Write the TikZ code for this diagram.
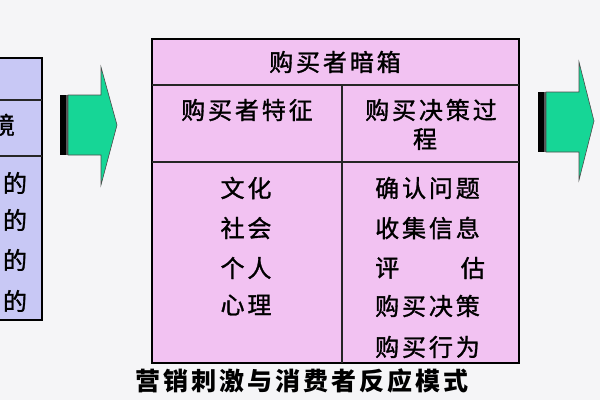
\documentclass[tikz,border=0pt]{standalone}
\usepackage{fontspec}
\newfontfamily\cjk[LetterSpace=12,FakeBold=1.3]{Noto Sans CJK SC}
\newfontfamily\cjkcap[LetterSpace=12]{Noto Sans CJK SC}
\definecolor{bgc}{RGB}{245,245,247}
\definecolor{pinkc}{RGB}{242,194,242}
\definecolor{lavc}{RGB}{200,200,245}
\definecolor{arrc}{RGB}{22,214,150}
\tikzset{
  txt/.style={font=\cjk\fontsize{24}{28}\selectfont, inner sep=0pt},
  tbl/.style={draw=black, line width=2pt},
  inl/.style={draw=black!85, line width=1.2pt},
  bigarrow/.style={fill=arrc, draw=black!70, line width=0.6pt}
}
\begin{document}
\begin{tikzpicture}[x=1pt,y=-1pt]
\useasboundingbox (0,0) rectangle (600,400);
\fill[bgc] (0,0) rectangle (600,400);
% left table
\filldraw[fill=lavc, tbl] (-5,58) rectangle (42,320);
\draw[inl] (-5,100) -- (42,100);
\draw[inl] (-5,156) -- (42,156);
\node[txt] (l0) at (3,125) {境};
\node[txt] (l1) at (15,183) {的};
\node[txt] (l2) at (15,220) {的};
\node[txt] (l3) at (15,260) {的};
\node[txt] (l4) at (15,301) {的};
% left arrow
\fill[black] (60,95) rectangle (66,155);
\fill[black!65] (66,95) rectangle (68,155);
\draw[bigarrow] (68,95) -- (101,95) -- (101,67) -- (117,125) -- (101,185) -- (101,155) -- (68,155) -- cycle;
% right arrow
\fill[black] (538,92) rectangle (544,152);
\fill[black!65] (544,92) rectangle (546,152);
\draw[bigarrow] (546,92) -- (579,92) -- (579,62) -- (594,121) -- (579,180) -- (579,152) -- (546,152) -- cycle;
% middle table
\filldraw[fill=pinkc, tbl] (152,39) rectangle (519,363);
\draw[inl] (152,85) -- (519,85);
\draw[inl] (152,162) -- (519,162);
\draw[inl] (342,85) -- (342,363);
\node[txt] (h) at (335,62) {购买者暗箱};
\node[txt] (c1) at (247,110) {购买者特征};
\node[txt] (c2) at (431,110) {购买决策过};
\node[txt] (c2b) at (425,139) {程};
\node[txt] (a1) at (246,188) {文化};
\node[txt] (a2) at (246,228) {社会};
\node[txt] (a3) at (246,268) {个人};
\node[txt] (a4) at (246,305) {心理};
\node[txt, anchor=west] (b1) at (375,188) {确认问题};
\node[txt, anchor=west] (b2) at (375,228) {收集信息};
\node[txt, anchor=west] (b3) at (375,268) {评};
\node[txt, anchor=east] (b3b) at (485,268) {估};
\node[txt, anchor=west] (b4) at (375,306) {购买决策};
\node[txt, anchor=west] (b5) at (375,347) {购买行为};
% caption
\node[txt, font=\cjkcap\bfseries\fontsize{25}{28}\selectfont] (cap) at (302,381) {营销刺激与消费者反应模式};
\end{tikzpicture}
\end{document}
